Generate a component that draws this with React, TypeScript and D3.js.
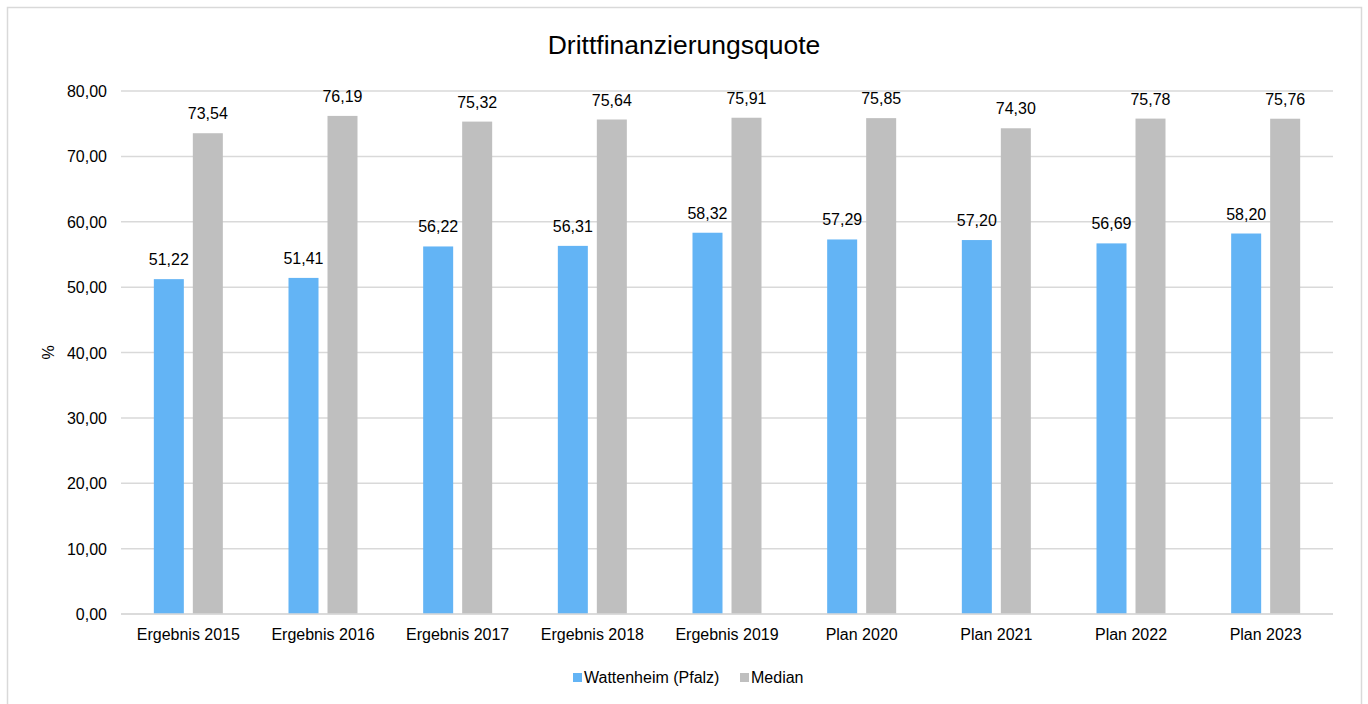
import React from "react";
import * as d3 from "d3";

const categories = ["Ergebnis 2015", "Ergebnis 2016", "Ergebnis 2017", "Ergebnis 2018", "Ergebnis 2019", "Plan 2020", "Plan 2021", "Plan 2022", "Plan 2023"];
const wattenheim = [51.22, 51.41, 56.22, 56.31, 58.32, 57.29, 57.2, 56.69, 58.2];
const median = [73.54, 76.19, 75.32, 75.64, 75.91, 75.85, 74.3, 75.78, 75.76];
const yTicks = [0, 10, 20, 30, 40, 50, 60, 70, 80];
const seriesNames = ["Wattenheim (Pfalz)", "Median"];
const colors = ["#63B4F5", "#BFBFBF"];

const fmt = (v: number) => v.toFixed(2).replace(".", ",");

export default function App() {
  const W = 1368, H = 704;
  const left = 121, right = 1333, top = 91, bottom = 614;
  const x = d3.scaleBand().domain(categories).range([left, right]);
  const y = d3.scaleLinear().domain([0, 80]).range([bottom, top]);
  const barW = 30, gap = 9;
  const font = "Liberation Sans, Arial, sans-serif";
  const series = [wattenheim, median];
  const fs = 16;
  return (
    <svg width={W} height={H} style={{ position: "absolute", left: 0, top: 0 }} fontFamily={font}>
      <rect x={0} y={0} width={W} height={H} fill="#fff" />
      <rect x={7.5} y={7.5} width={1354} height={720} fill="#fff" stroke="#D9D9D9" strokeWidth={1.5} />
      <text x={684} y={54} textAnchor="middle" fontSize={26.5} fill="#000">Drittfinanzierungsquote</text>
      {yTicks.map((t) => (
        <g key={t}>
          <line x1={left} x2={right} y1={y(t)} y2={y(t)} stroke="#D9D9D9" strokeWidth={1.5} />
          <text x={107} y={y(t) + 6} textAnchor="end" fontSize={fs} fill="#000">{fmt(t)}</text>
        </g>
      ))}
      <text transform={`translate(54,${(top + bottom) / 2}) rotate(-90)`} textAnchor="middle" fontSize={fs} fill="#000">%</text>
      {categories.map((c, i) => {
        const cx = x(c)! + x.bandwidth() / 2;
        return (
          <g key={c}>
            {series.map((s, k) => {
              const bx = k === 0 ? cx - gap / 2 - barW : cx + gap / 2;
              return (
                <g key={k}>
                  <rect x={bx} y={y(s[i])} width={barW} height={bottom - y(s[i])} fill={colors[k]} />
                  <text x={bx + barW / 2} y={y(s[i]) - 14} textAnchor="middle" fontSize={fs} fill="#000">{fmt(s[i])}</text>
                </g>
              );
            })}
            <text x={cx} y={640} textAnchor="middle" fontSize={fs} fill="#000">{c}</text>
          </g>
        );
      })}
      <line x1={left} x2={right} y1={bottom} y2={bottom} stroke="#D9D9D9" strokeWidth={1.5} />
      <g>
        <rect x={573} y={673} width={9} height={9} fill={colors[0]} />
        <text x={584} y={683} fontSize={fs} fill="#000">{seriesNames[0]}</text>
        <rect x={740} y={673} width={9} height={9} fill={colors[1]} />
        <text x={751} y={683} fontSize={fs} fill="#000">{seriesNames[1]}</text>
      </g>
    </svg>
  );
}
